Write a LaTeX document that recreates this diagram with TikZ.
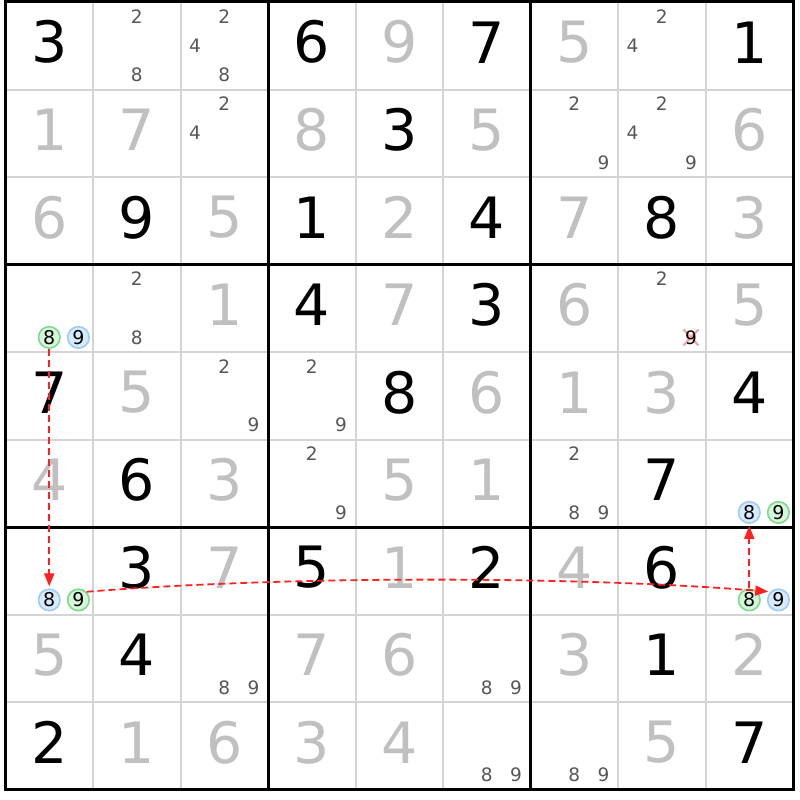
\documentclass[tikz,border=0pt]{standalone}
\usepackage{fontspec}
\setmainfont{DejaVu Sans}
\usetikzlibrary{arrows.meta}
\definecolor{placed}{HTML}{C0C0C0}
\definecolor{candc}{HTML}{575757}
\definecolor{gridgray}{HTML}{D4D4D4}
\definecolor{grfill}{HTML}{D6F5DB}
\definecolor{grline}{HTML}{7ED98C}
\definecolor{blfill}{HTML}{D8EAFD}
\definecolor{blline}{HTML}{9DCBF7}
\definecolor{xpink}{HTML}{F5A3A8}
\definecolor{chainred}{HTML}{FF2020}
\tikzset{
 givenst/.style={inner sep=0pt, font=\fontsize{57}{57}\selectfont, text=black},
 placedst/.style={givenst, text=placed},
 candst/.style={inner sep=0pt, font=\fontsize{18.5}{18.5}\selectfont, text=candc},
 grn/.style={circle, inner sep=0pt, minimum size=21.5pt, draw=grline, fill=grfill, line width=1.6pt, font=\fontsize{19}{19}\selectfont, text=black},
 blu/.style={grn, draw=blline, fill=blfill},
 thinline/.style={draw=gridgray, line width=2pt},
 thickline/.style={draw=black, line width=3pt},
 xmark/.style={draw=xpink, line width=2.2pt},
 chainarrow/.style={chainred, line width=1.8pt, dash pattern=on 7pt off 4pt, -{Triangle[length=13pt,width=10pt]}, shorten >=2pt},
}
\newcommand\CS{87.5}
\newcommand\mygiven[4]{\node[#1] (n#2#3) at ({5.5+(#3-0.5)*\CS},{2+(#2-0.5)*\CS-3.5}) {#4};}
\newcommand\mycand[4]{\node[#1] (c#2#3#4) at ({5.5+(#3-1)*\CS+(2*mod(#4-1,3)+1)*\CS/6},{2+(#2-1)*\CS+(2*floor((#4-1)/3)+1)*\CS/6}) {#4};}
\begin{document}
\begin{tikzpicture}[x=1pt,y=-1pt]
\fill[white] (0,0) rectangle (800,800);
\useasboundingbox (0,0) rectangle (800,800);
% grid
\foreach \i in {1,2,4,5,7,8} {
  \draw[thinline] ({5.5+\i*\CS},2) -- ({5.5+\i*\CS},789.5);
  \draw[thinline] (5.5,{2+\i*\CS}) -- (793,{2+\i*\CS});
}
\foreach \i in {0,3,6,9} {
  \draw[thickline] ({5.5+\i*\CS},0.5) -- ({5.5+\i*\CS},791);
  \draw[thickline] (4,{2+\i*\CS}) -- (794.5,{2+\i*\CS});
}
% eliminated candidate mark
\coordinate (x489) at ({5.5+7*\CS+5*\CS/6},{2+3*\CS+5*\CS/6});
\draw[xmark] (x489) +(-7.5,-8) -- +(7.5,8);
\draw[xmark] (x489) +(-7.5,8) -- +(7.5,-8);
% givens
\foreach \r/\c/\d in {1/1/3,1/4/6,1/6/7,1/9/1,2/5/3,3/2/9,3/4/1,3/6/4,3/8/8,4/4/4,4/6/3,5/1/7,5/5/8,5/9/4,6/2/6,6/8/7,7/2/3,7/4/5,7/6/2,7/8/6,8/2/4,8/8/1,9/1/2,9/9/7}
  {\mygiven{givenst}{\r}{\c}{\d}}
% placed
\foreach \r/\c/\d in {1/5/9,1/7/5,2/1/1,2/2/7,2/4/8,2/6/5,2/9/6,3/1/6,3/3/5,3/5/2,3/7/7,3/9/3,4/3/1,4/5/7,4/7/6,4/9/5,5/2/5,5/6/6,5/7/1,5/8/3,6/1/4,6/3/3,6/5/5,6/6/1,7/3/7,7/5/1,7/7/4,8/1/5,8/4/7,8/5/6,8/7/3,8/9/2,9/2/1,9/3/6,9/4/3,9/5/4,9/8/5}
  {\mygiven{placedst}{\r}{\c}{\d}}
% candidates
\foreach \r/\c/\d in {1/2/2,1/2/8,1/3/2,1/3/4,1/3/8,1/8/2,1/8/4,2/3/2,2/3/4,2/7/2,2/7/9,2/8/2,2/8/4,2/8/9,4/2/2,4/2/8,4/8/2,5/3/2,5/3/9,5/4/2,5/4/9,6/4/2,6/4/9,6/7/2,6/7/8,6/7/9,8/3/8,8/3/9,8/6/8,8/6/9,9/6/8,9/6/9,9/7/8,9/7/9}
  {\mycand{candst}{\r}{\c}{\d}}
\mycand{candst,text=black}{4}{8}{9}
% highlighted candidates
\mycand{grn}{4}{1}{8}
\mycand{blu}{4}{1}{9}
\mycand{blu}{6}{9}{8}
\mycand{grn}{6}{9}{9}
\mycand{blu}{7}{1}{8}
\mycand{grn}{7}{1}{9}
\mycand{grn}{7}{9}{8}
\mycand{blu}{7}{9}{9}
% chain
\draw[chainarrow] (c418) -- (c718);
\draw[chainarrow] (c719.45) .. controls +(200,-16) and +(-200,-16) .. (c799.135);
\draw[chainarrow] (c798) -- (c698);
\end{tikzpicture}
\end{document}
